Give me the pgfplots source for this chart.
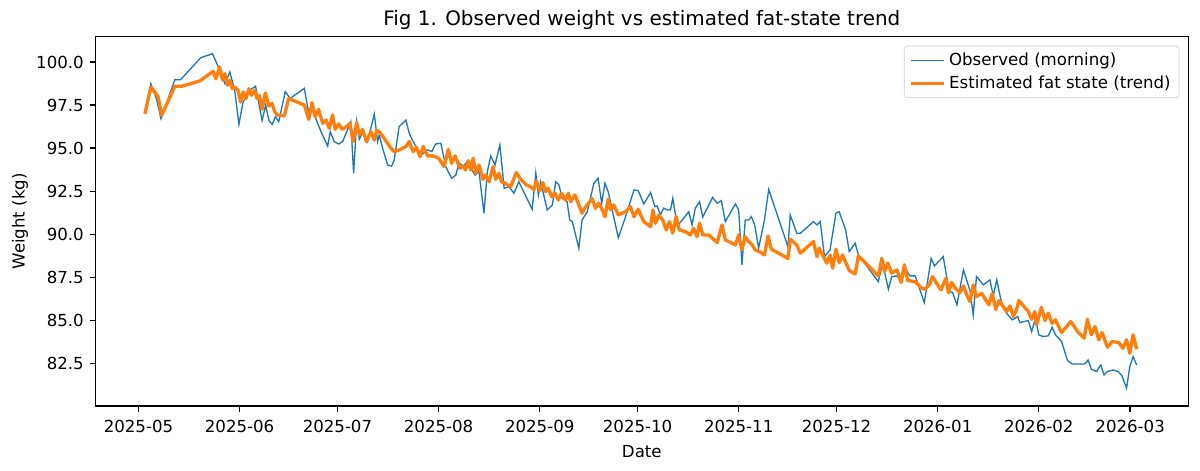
\documentclass[border=0pt]{standalone}
\usepackage{fontspec}
\setmainfont{DejaVu Sans}
\usepackage{pgfplots}
\pgfplotsset{compat=1.18}
\definecolor{mblue}{HTML}{1F77B4}
\definecolor{morange}{HTML}{FF7F0E}
\begin{document}
\begin{tikzpicture}
\useasboundingbox (-57.46pt,-39.15pt) rectangle (665.3pt,244.5pt);
\begin{axis}[
  at={(0,0)}, anchor=south west,
  scale only axis, width=658.2pt, height=222.4pt,
  xmin=-13.2, xmax=321.8, ymin=80.03, ymax=101.47,
  axis line style={line width=0.8pt},
  tick align=outside, tick pos=left,
  major tick length=3.5pt,
  every tick/.style={black, line width=0.8pt},
  xtick={0,31,61,92,123,153,184,214,245,276,304},
  xticklabels={2025-05,2025-06,2025-07,2025-08,2025-09,2025-10,2025-11,2025-12,2026-01,2026-02,2026-03},
  ytick={82.5,85,87.5,90,92.5,95,97.5,100},
  yticklabel style={/pgf/number format/.cd, fixed, fixed zerofill, precision=1},
  /pgf/number format/assume math mode=true,
  ticklabel style={font=\fontsize{10}{12}\selectfont},
  xticklabel style={yshift=-1.5pt},
  xlabel={Date}, ylabel={Weight (kg)},
  label style={font=\fontsize{10}{12}\selectfont},
  xlabel style={yshift=-1pt},
  ylabel style={yshift=-2pt},
  title={Fig 1. Observed weight vs estimated fat-state trend},
  title style={font=\fontsize{12}{14}\selectfont, yshift=-5.5pt},
  legend style={at={(1,1)}, anchor=north east, xshift=-5.4pt, yshift=-5.4pt,
    draw=black!20, rounded corners=2pt, fill=white, fill opacity=0.8, text opacity=1,
    font=\fontsize{10}{12}\selectfont, inner xsep=3pt, inner ysep=2pt, row sep=1pt},
  legend cell align=left,
  legend image code/.code={\draw[#1] (0pt,0pt) -- (20pt,0pt);},
]
\addplot[mblue, line width=0.8pt] coordinates {
(1.97,97.0)(3.8,98.74)(5.5,97.87)(6.9,96.71)(11.15,98.97)(12.9,98.97)(19.1,100.25)(22.7,100.48)
(24.4,99.75)(26.5,98.74)(28,99.42)(29.5,98.36)(30.8,96.38)(32.07,97.68)(34.1,98.36)(35.9,98.59)
(37.9,96.6)(39,97.49)(40,96.6)(41,96.38)(42,96.83)(43,96.54)(45,98.28)(46.5,97.89)(50.85,98.47)
(52.2,97.02)(52.9,97.41)(55.95,95.96)(58,95.12)(58.8,95.96)(60,95.38)(61.4,95.24)(62.6,95.38)
(65.1,96.54)(65.95,93.54)(66.9,96.54)(67.7,95.51)(68.9,95.96)(70.2,95.38)(72.3,96.98)(73.3,95.38)
(73.8,95.76)(75,94.89)(76.4,94.02)(77.6,93.96)(78.4,94.31)(79.9,96.25)(82,96.63)(83,95.86)(84,95.47)
(86.05,94.74)(87.1,94.66)(88.6,94.9)(89.9,94.8)(91.1,95.24)(92.7,95.28)(94.2,93.93)(96,93.25)
(97.3,93.44)(98.3,94.16)(99.5,93.93)(100.8,94.22)(102.2,93.73)(103.2,93.44)(104.4,93.64)(105.9,91.22)
(106.96,93.64)(108,94.54)(109.3,94.02)(110.8,95.18)(112.1,92.67)(113.6,92.76)(115.1,92.38)(116.6,93.05)
(120.7,91.45)(121.8,93.54)(122.6,92.28)(123.3,93.05)(125.3,91.41)(126.9,91.7)(127.9,93.05)(128.9,92.86)
(129.9,92.09)(131.4,91.89)(132.2,90.83)(133,90.73)(135,89.19)(136,90.83)(137.6,91.31)(139.6,92.96)
(140.9,93.25)(142,91.8)(143,92.96)(144,92.47)(145,91.6)(147.1,89.8)(149.3,91.0)(151.9,92.57)
(153.2,92.53)(154.9,91.76)(157,92.42)(158.3,91.6)(159,91.64)(160,91.12)(161,91.51)(162.1,91.41)
(163.1,91.41)(163.8,92.09)(165.1,90.54)(166.1,90.68)(168.7,91.31)(169.7,90.54)(170.7,91.51)(172,91.89)
(173,91.0)(176,92.14)(177.4,91.8)(178.7,91.95)(179.9,90.73)(183,91.76)(184,91.41)(185,88.22)
(186,90.83)(187.1,90.83)(187.9,91.02)(188.9,90.54)(190.1,89.19)(191.9,90.83)(193.2,92.6)(199.1,89.28)
(199.8,91.12)(201.8,90.06)(202.9,90.06)(206.9,90.73)(208,90.54)(209,90.73)(210.3,88.7)(212,89.09)
(213.8,91.22)(214.8,91.31)(216.8,90.25)(217.9,88.99)(219.7,89.48)(220.7,88.8)(226.8,87.25)(228.1,88.32)
(229.9,86.81)(230.9,87.54)(232.5,87.58)(233.8,87.25)(235,88.03)(236.5,87.58)(238.1,87.58)(240.9,86.03)
(243,88.6)(244,88.16)(246.7,88.7)(248.5,86.7)(249.6,86.6)(250.9,85.9)(252.9,87.93)(254.9,86.73)
(255.9,85.32)(256.9,87.54)(259,87.06)(261,87.35)(262.05,86.42)(263.1,87.35)(264.6,85.99)(266.1,85.41)
(267.9,85.03)(269.5,85.22)(270.2,84.87)(272.8,84.99)(273.8,84.35)(275,85.12)(276,84.16)(277.3,84.06)
(278.9,84.1)(280.1,84.6)(281.1,84.16)(282.97,83.77)(284.8,82.67)(286.2,82.47)(290.1,82.47)(291.1,82.7)
(292.1,82.16)(293.7,82.03)(295,82.41)(296,81.83)(297.05,82.03)(298.8,82.12)(300.3,82.03)(301.5,81.78)
(302.9,81.06)(303.9,82.32)(304.9,82.9)(306,82.41)
};
\addlegendentry{Observed (morning)}
\addplot[morange, line width=2pt, line join=round] coordinates {
(1.97,97.0)(3.8,98.55)(6.0,98.0)(7.1,96.9)(11.15,98.59)(13.2,98.59)(18.8,98.9)(22.9,99.46)
(23.7,99.03)(24.9,99.71)(25.7,98.97)(26.5,99.32)(27.3,98.65)(28,98.94)(28.8,98.45)(29.5,98.55)
(30.5,98.36)(31.3,97.68)(32.1,98.26)(32.9,97.87)(33.9,98.45)(34.6,98.07)(35.6,98.36)(36.4,97.87)
(37.1,98.05)(37.9,97.25)(38.9,98.2)(39.9,97.45)(40.9,97.6)(41.8,97.1)(42.7,96.92)(44.7,96.87)
(46.05,97.89)(48.3,97.7)(50.85,97.5)(52.2,96.67)(53.2,97.64)(54.2,96.83)(55.2,97.25)(56.5,96.44)
(57.5,96.63)(58.5,96.15)(59.5,96.92)(60.3,96.09)(61.4,96.4)(62.4,96.09)(63.8,96.25)(64.8,96.44)
(65.8,95.38)(66.9,96.48)(67.7,95.76)(68.7,96.09)(69.9,95.38)(71.25,95.96)(72.3,95.47)(73,96.05)
(74,95.9)(75.3,95.57)(77.4,94.99)(78.4,94.8)(79.9,94.89)(82,95.09)(83,95.38)(84.2,94.8)(85.2,95.05)
(86.3,94.5)(87.3,95.1)(88.6,94.55)(90.4,94.55)(92.1,94.4)(93.7,93.93)(95,94.93)(96,94.12)(97.1,94.55)
(98.5,93.83)(99.5,93.96)(100.3,93.73)(101.1,94.27)(101.9,93.73)(102.6,94.41)(103.4,93.54)(104.4,94.02)
(105.6,93.19)(106.4,93.44)(107.5,93.05)(108.7,93.93)(109.5,93.19)(110.5,93.54)(111.3,93.05)(112.4,92.96)
(114.1,92.76)(115.8,93.58)(117.2,93.19)(118.9,92.86)(120.2,92.76)(121.2,92.57)(122,93.11)(123,92.53)
(124,92.99)(124.8,92.47)(125.6,92.67)(126.7,92.18)(127.7,92.38)(128.7,91.99)(129.7,92.38)(130.9,91.99)
(131.8,92.38)(132.5,91.89)(133.8,92.28)(134.8,91.8)(136,91.22)(137,91.57)(139.1,92.06)(140.1,91.51)
(141.1,91.8)(142.2,91.41)(143,91.02)(144,92.03)(144.7,91.41)(145.7,91.7)(147.1,91.12)(149.3,91.31)
(150.8,91.6)(151.9,91.02)(153.2,91.45)(154.9,90.73)(157,90.44)(157.7,91.41)(158.5,90.64)(159.5,91.12)
(160.7,90.83)(161.8,90.25)(162.8,90.73)(163.8,90.06)(164.8,91.02)(165.8,90.25)(167.7,90.15)(169.2,89.96)
(170.2,90.35)(171.2,89.86)(172,90.64)(173,89.96)(174.8,89.96)(177.4,89.51)(178.9,90.54)(179.9,89.67)
(183,89.38)(184,89.96)(185,89.09)(186,89.86)(187.1,89.57)(188.1,89.38)(189.1,89.09)(190.3,88.99)
(191.9,88.8)(193,89.9)(194,89.13)(199.1,88.6)(199.8,89.71)(201.8,89.38)(202.9,88.9)(206.9,89.57)
(208,88.7)(208.7,89.19)(209.7,88.8)(211,88.32)(212,88.8)(212.8,88.03)(213.8,89.13)(214.8,88.35)
(215.8,88.8)(217.9,87.89)(219.7,87.7)(220.7,88.74)(226.8,87.58)(227.9,88.6)(228.7,87.83)(229.7,88.32)
(230.9,87.74)(232.5,87.93)(233.8,87.19)(234.8,88.22)(235.8,87.31)(238.1,87.25)(240.1,86.86)(241.1,86.81)
(242.4,87.06)(243.4,87.54)(244.7,87.15)(246,86.77)(247.5,87.44)(248.3,86.6)(249.3,87.2)(250.3,86.9)
(251.8,86.61)(252.9,87.0)(253.9,86.48)(254.9,86.09)(255.9,87.06)(256.9,86.38)(258.5,86.57)(259.7,86.19)
(260.7,85.9)(261.7,86.54)(262.8,85.64)(263.8,86.15)(265.1,85.8)(266.1,85.51)(267.2,85.84)(268.2,85.22)
(269.2,85.64)(269.9,86.15)(272.8,85.51)(273.8,85.06)(274.8,85.51)(275.3,84.74)(276.8,85.76)(277.9,84.99)
(278.9,85.41)(280.1,84.83)(281.1,85.03)(282.97,84.29)(285.8,84.93)(287.9,84.35)(289.9,83.96)(290.9,85.06)
(292.1,84.16)(293.2,84.64)(294.4,83.87)(295.4,84.29)(297.05,83.44)(298.5,83.77)(300.5,83.71)(301.8,83.38)
(302.9,83.87)(303.9,83.09)(304.9,84.16)(306,83.32)
};
\addlegendentry{Estimated fat state (trend)}
\end{axis}
\end{tikzpicture}
\end{document}
